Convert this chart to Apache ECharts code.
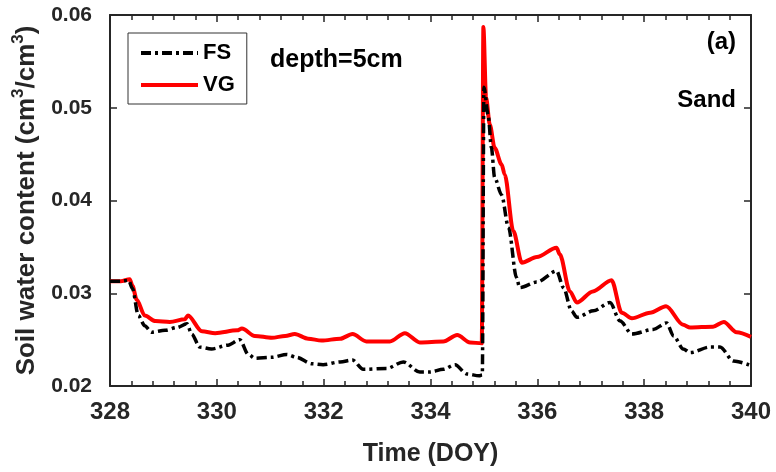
<!DOCTYPE html>
<html>
<head>
<meta charset="utf-8">
<script src="https://cdn.jsdelivr.net/npm/echarts@6/dist/echarts.min.js"></script>
<style>
  html, body { margin: 0; padding: 0; background: #fff; }
  #chart { width: 776px; height: 472px; }
</style>
</head>
<body>
<div id="chart"></div>
<script>
// ---- data (DOY, soil water content) ----
var fsDays = [328.0, 328.2, 328.35, 328.42, 328.53, 328.65, 328.78, 329.03, 329.25, 329.44, 329.53, 329.68,
  329.9, 330.21, 330.43, 330.59, 330.71, 331.03, 331.31, 331.49, 331.78, 331.99, 332.31, 332.54,
  332.74, 333.18, 333.49, 333.8, 333.99, 334.24, 334.46, 334.68, 334.91, 334.97, 335.0, 335.08,
  335.14, 335.2, 335.33, 335.46, 335.61, 335.67, 335.99, 336.36, 336.49, 336.64, 336.74, 337.05,
  337.36, 337.55, 337.77, 338.17, 338.42, 338.55, 338.73, 338.86, 339.23, 339.42, 339.67, 340.0];
var fsValues = [0.0313, 0.0313, 0.0314, 0.0305, 0.0276, 0.0265, 0.0258, 0.0260, 0.0263, 0.0267, 0.0256, 0.0242,
  0.0240, 0.0244, 0.0250, 0.0234, 0.0230, 0.0231, 0.0234, 0.0231, 0.0224, 0.0223, 0.0226, 0.0228,
  0.0218, 0.0219, 0.0226, 0.0215, 0.0215, 0.0218, 0.0223, 0.0213, 0.0211, 0.0212, 0.0522, 0.0492,
  0.0457, 0.0425, 0.0406, 0.0371, 0.0317, 0.0306, 0.0312, 0.0324, 0.0306, 0.0281, 0.0274, 0.0281,
  0.0290, 0.0270, 0.0256, 0.0261, 0.0268, 0.0254, 0.0240, 0.0236, 0.0242, 0.0242, 0.0227, 0.0222];

var vgDays = [328.0, 328.2, 328.37, 328.42, 328.5, 328.65, 328.85, 329.12, 329.4, 329.46, 329.72, 329.97,
  330.38, 330.47, 330.71, 331.03, 331.28, 331.46, 331.71, 331.96, 332.31, 332.54, 332.8, 333.24,
  333.52, 333.8, 334.24, 334.5, 334.74, 334.96, 334.99, 335.04, 335.11, 335.2, 335.33, 335.39,
  335.55, 335.71, 335.99, 336.36, 336.42, 336.61, 336.74, 337.04, 337.39, 337.58, 337.77, 338.11,
  338.41, 338.73, 338.86, 339.29, 339.49, 339.73, 340.0];
var vgValues = [0.0313, 0.0313, 0.0315, 0.0308, 0.0293, 0.0276, 0.0270, 0.0269, 0.0272, 0.0276, 0.0259, 0.0257,
  0.0260, 0.0262, 0.0254, 0.0252, 0.0254, 0.0256, 0.0251, 0.0249, 0.0251, 0.0256, 0.0248, 0.0248,
  0.0257, 0.0247, 0.0248, 0.0255, 0.0247, 0.0246, 0.0587, 0.0511, 0.0482, 0.0457, 0.0439, 0.0428,
  0.0367, 0.0333, 0.0339, 0.0349, 0.0342, 0.0302, 0.0290, 0.0302, 0.0314, 0.0279, 0.0273, 0.0279,
  0.0286, 0.0266, 0.0263, 0.0264, 0.0269, 0.0258, 0.0253];

var xTicks = { min: 328, max: 340, step: 2 };
var yTicks = { min: 0.02, max: 0.06, step: 0.01 };

function pairs(xs, ys) {
  return xs.map(function(x, i) { return [x, ys[i]]; });
}

var AXIS_COLOR = '#262626';
var FONT = '"Liberation Sans", Arial, sans-serif';
var FS_DASH = [10, 4, 3, 4];

var chart = echarts.init(document.getElementById('chart'), null, { renderer: 'canvas' });

function frameAxis(extra) {
  return Object.assign({
    axisLine: { show: true, onZero: false, lineStyle: { color: AXIS_COLOR, width: 2 } },
    axisTick: { show: true, inside: true, length: 7, lineStyle: { color: AXIS_COLOR, width: 1.5 } },
    splitLine: { show: false },
  }, extra);
}

chart.setOption({
  animation: false,
  backgroundColor: '#fff',
  grid: { left: 110, right: 25, top: 15, bottom: 85 },
  legend: {
    orient: 'vertical',
    left: 128,
    top: 33,
    padding: [9, 12, 8, 11],
    itemWidth: 57,
    itemHeight: 14,
    itemGap: 10,
    borderColor: '#333',
    borderWidth: 1,
    backgroundColor: '#fff',
    itemStyle: { opacity: 0 },
    textStyle: { fontFamily: FONT, fontWeight: 'bold', fontSize: 22, color: '#000' },
    data: [
      { name: 'FS', lineStyle: { width: 4, type: FS_DASH, color: '#000' } },
      { name: 'VG', lineStyle: { width: 4, color: '#ff0000' } },
    ],
  },
  xAxis: [
    frameAxis({
      type: 'value', min: xTicks.min, max: xTicks.max, interval: xTicks.step,
      name: 'Time (DOY)', nameLocation: 'middle', nameGap: 56,
      nameTextStyle: { fontFamily: FONT, fontWeight: 'bold', fontSize: 25, color: AXIS_COLOR },
      axisLabel: { fontFamily: FONT, fontWeight: 'bold', fontSize: 24, color: AXIS_COLOR, margin: 14 },
      minorTick: { show: true, splitNumber: 5, length: 5, lineStyle: { color: AXIS_COLOR, width: 1.5 } },
    }),
    frameAxis({
      type: 'value', position: 'top', min: xTicks.min, max: xTicks.max, interval: xTicks.step,
      axisLabel: { show: false },
      minorTick: { show: true, splitNumber: 5, length: 5, lineStyle: { color: AXIS_COLOR, width: 1.5 } },
    }),
  ],
  yAxis: [
    frameAxis({
      type: 'value', min: yTicks.min, max: yTicks.max, interval: yTicks.step,
      name: '{n|Soil water content (cm}{s|3}{n|/cm}{s|3}{n|)}',
      nameLocation: 'middle', nameGap: 64, nameRotate: 90,
      nameTextStyle: {
        fontFamily: FONT, fontWeight: 'bold', fontSize: 26, color: AXIS_COLOR,
        rich: {
          n: { fontFamily: FONT, fontWeight: 'bold', fontSize: 26, color: AXIS_COLOR, lineHeight: 30, verticalAlign: 'bottom' },
          s: { fontFamily: FONT, fontWeight: 'bold', fontSize: 17, color: AXIS_COLOR, lineHeight: 30, verticalAlign: 'top', padding: [0, 0, 10, 0] },
        },
      },
      axisLabel: {
        fontFamily: FONT, fontWeight: 'bold', fontSize: 21, color: AXIS_COLOR, margin: 18,
        formatter: function(v) { return v.toFixed(2); },
      },
    }),
    frameAxis({
      type: 'value', position: 'right', min: yTicks.min, max: yTicks.max, interval: yTicks.step,
      axisLabel: { show: false },
    }),
  ],
  graphic: [
    { type: 'text', left: 270, top: 48, style: { text: 'depth=5cm', font: 'bold 25px ' + FONT, fill: '#000' } },
    { type: 'text', right: 40, top: 30, style: { text: '(a)', font: 'bold 24px ' + FONT, fill: '#000' } },
    { type: 'text', right: 40, top: 88, style: { text: 'Sand', font: 'bold 24px ' + FONT, fill: '#000' } },
  ],
  series: [
    {
      name: 'FS', type: 'line', data: pairs(fsDays, fsValues), z: 3,
      symbol: 'none', smooth: 0.3, smoothMonotone: 'x',
      lineStyle: { color: '#000', width: 3.5, type: FS_DASH },
      itemStyle: { color: '#000' },
    },
    {
      name: 'VG', type: 'line', data: pairs(vgDays, vgValues), z: 2,
      symbol: 'none', smooth: 0.3, smoothMonotone: 'x',
      lineStyle: { color: '#ff0000', width: 4 },
      itemStyle: { color: '#ff0000' },
    },
  ],
});
</script>
</body>
</html>
